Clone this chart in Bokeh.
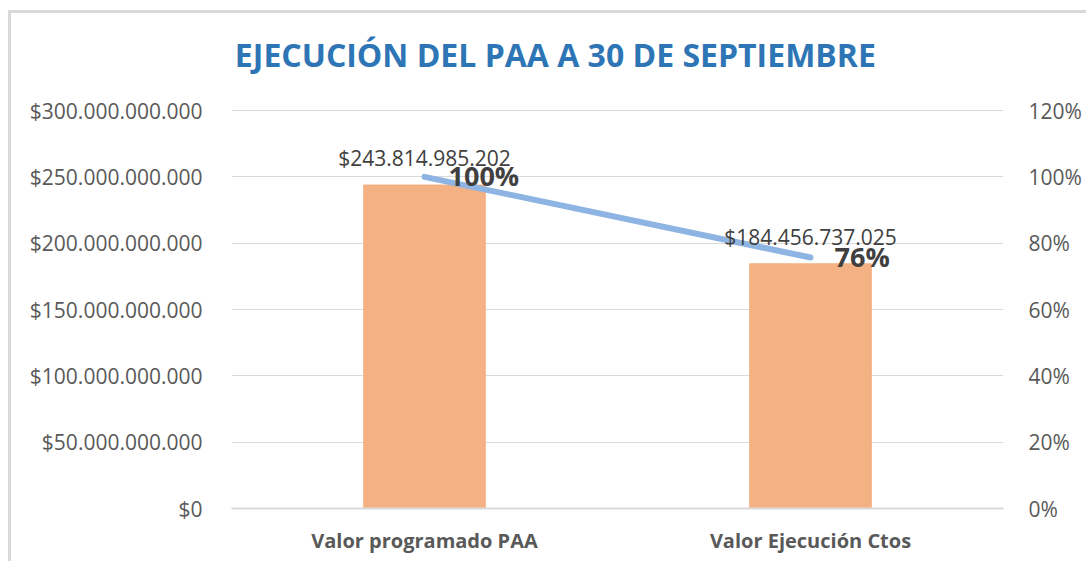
from bokeh.plotting import figure
from bokeh.models import (ColumnDataSource, FactorRange, Range1d, LinearAxis,
                          FixedTicker, NumeralTickFormatter, Label)
from bokeh.core.properties import value
from bokeh.embed import file_html
from bokeh.resources import INLINE

# ---- data ----
categories = ["Valor programado PAA", "Valor Ejecución Ctos"]
values = [243814985202, 184456737025]
pct = [1.0, 0.7566]
value_labels = ["$243.814.985.202", "$184.456.737.025"]
pct_labels = ["100%", "76%"]
left_ticks = [0, 50e9, 100e9, 150e9, 200e9, 250e9, 300e9]
right_ticks = [0, 0.2, 0.4, 0.6, 0.8, 1.0, 1.2]
title_text = "EJECUCIÓN DEL PAA A 30 DE SEPTIEMBRE"

FONT = "Open Sans"

def money(v):
    return "$" + f"{int(v):,}".replace(",", ".")

# layout constants (pixels)
FRAME_H = 495          # frame spans the title area too
AXIS_H = 398           # pixel height of the 0..300e9 axis span
left_max = left_ticks[-1] * FRAME_H / AXIS_H
right_max = right_ticks[-1] * FRAME_H / AXIS_H

src = ColumnDataSource(dict(cat=categories, val=values, pct=pct,
                            vlab=value_labels, plab=pct_labels))

p = figure(x_range=FactorRange(*categories), y_range=Range1d(0, left_max),
           width=1078, height=551, output_backend="svg", toolbar_location=None,
           title=None,
           min_border_left=220, min_border_right=86, min_border_top=0,
           min_border_bottom=56)
p.styles = {"border-top": "3px solid #D9D9D9", "border-left": "3px solid #D9D9D9",
            "margin-left": "8px", "margin-top": "10px"}
p.extra_y_ranges = {"pct": Range1d(0, right_max)}
p.outline_line_color = None
p.background_fill_color = "white"
p.border_fill_color = "white"

# title drawn as a label inside the (extended) frame
title = Label(x=0.839, y=left_ticks[-1] + 42.5e9, text=title_text,
              text_align="center", text_baseline="middle", text_font=FONT,
              text_font_size="32px", text_font_style="bold",
              text_color="#2E75B6")
p.add_layout(title)

p.vbar(x="cat", top="val", width=0.315, source=src, color="#F4B183")
p.line(x="cat", y="pct", source=src, y_range_name="pct", line_color="#8EB4E3",
       line_width=6, line_cap="round")

p.text(x="cat", y="val", text="vlab", source=src, text_align="center",
       text_baseline="bottom", y_offset=-13, text_font=value(FONT),
       text_font_size="21px", text_color="#404040")
p.text(x="cat", y="pct", text="plab", source=src, y_range_name="pct",
       text_align="left", text_baseline="middle", x_offset=24, y_offset=-1,
       text_font=value(FONT), text_font_size="27px", text_font_style="bold",
       text_color="#404040")

# axes
p.yaxis.ticker = FixedTicker(ticks=left_ticks)
p.yaxis.major_label_overrides = {t: money(t) for t in left_ticks}
for ax in [p.yaxis[0]]:
    ax.axis_line_color = None
    ax.major_tick_line_color = None
    ax.minor_tick_line_color = None
    ax.major_label_text_font = FONT
    ax.major_label_text_font_size = "21px"
    ax.major_label_text_color = "#595959"
    ax.major_label_standoff = 23

r_ax = LinearAxis(y_range_name="pct", ticker=FixedTicker(ticks=right_ticks),
                  formatter=NumeralTickFormatter(format="0%"))
r_ax.axis_line_color = None
r_ax.major_tick_line_color = None
r_ax.minor_tick_line_color = None
r_ax.major_label_text_font = FONT
r_ax.major_label_text_font_size = "21px"
r_ax.major_label_text_color = "#595959"
r_ax.major_label_standoff = 19
p.add_layout(r_ax, "right")

p.xaxis.axis_line_color = "#D9D9D9"
p.xaxis.axis_line_width = 2
p.xaxis.major_tick_line_color = None
p.xaxis.minor_tick_line_color = None
p.xaxis.major_label_text_font = FONT
p.xaxis.major_label_text_font_size = "20px"
p.xaxis.major_label_text_font_style = "bold"
p.xaxis.major_label_text_color = "#595959"
p.xaxis.major_label_standoff = 12

p.xgrid.grid_line_color = None
p.ygrid.ticker = FixedTicker(ticks=left_ticks)
p.ygrid.grid_line_color = "#D9D9D9"
p.ygrid.grid_line_width = 1

open("out.html", "w").write(file_html(p, INLINE))
